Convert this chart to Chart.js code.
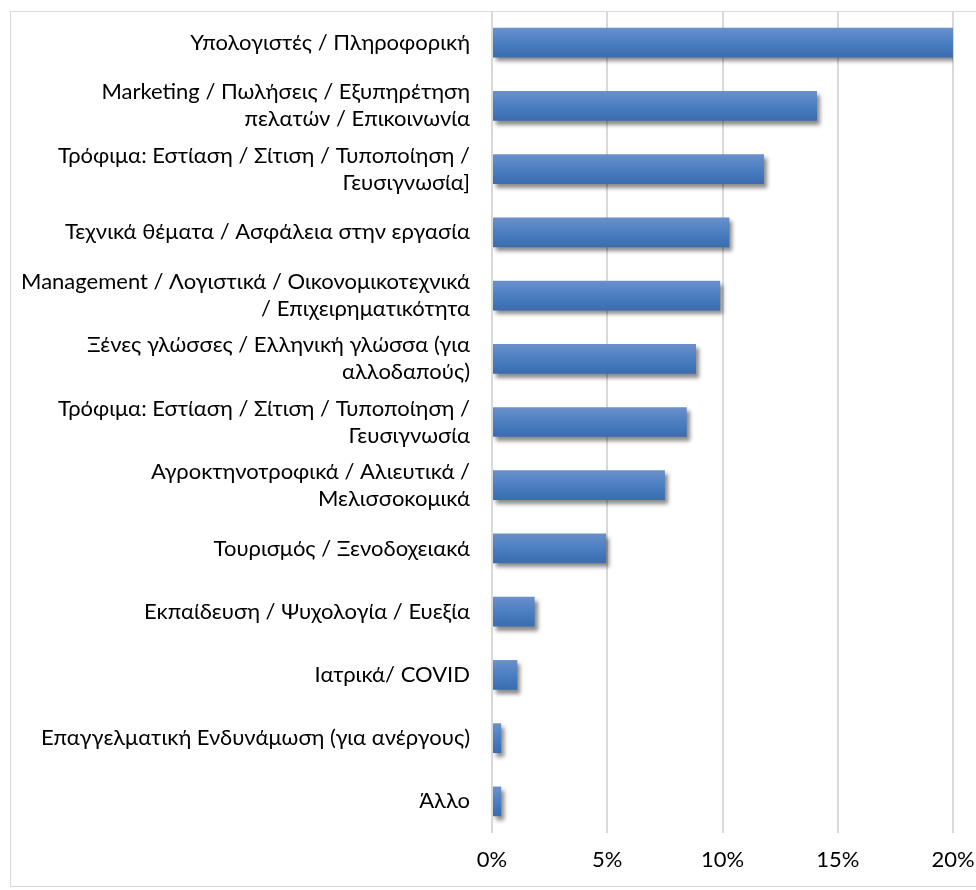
<!DOCTYPE html>
<html>
<head>
<meta charset="utf-8">
<script src="https://cdn.jsdelivr.net/npm/chart.js@4"></script>
<style>
  html, body { margin: 0; padding: 0; background: #fff; overflow: hidden; }
  #wrap { position: relative; width: 976px; height: 890px; }
  #frame { position: absolute; left: 10px; top: 11px; width: 980px; height: 876px; border: 1px solid #d9d9d9; box-sizing: border-box; }
  canvas { position: absolute; left: 0; top: 0; }
</style>
</head>
<body>
<div id="wrap">
  <div id="frame"></div>
  <canvas id="barChart" width="976" height="890"></canvas>
</div>
<script>
// Categories (multi-line labels), top to bottom
const categories = [
  ['Υπολογιστές / Πληροφορική'],
  ['Marketing / Πωλήσεις / Εξυπηρέτηση', 'πελατών / Επικοινωνία'],
  ['Τρόφιμα: Εστίαση / Σίτιση / Τυποποίηση /', 'Γευσιγνωσία]'],
  ['Τεχνικά θέματα / Ασφάλεια στην εργασία'],
  ['Management / Λογιστικά / Οικονομικοτεχνικά', '/ Επιχειρηματικότητα'],
  ['Ξένες γλώσσες / Ελληνική γλώσσα (για', 'αλλοδαπούς)'],
  ['Τρόφιμα: Εστίαση / Σίτιση / Τυποποίηση /', 'Γευσιγνωσία'],
  ['Αγροκτηνοτροφικά / Αλιευτικά /', 'Μελισσοκομικά'],
  ['Τουρισμός / Ξενοδοχειακά'],
  ['Εκπαίδευση / Ψυχολογία / Ευεξία'],
  ['Ιατρικά/ COVID'],
  ['Επαγγελματική Ενδυνάμωση (για ανέργους)'],
  ['Άλλο']
];

// Share of answers (%)
const shares = [20.0, 14.1, 11.8, 10.3, 9.9, 8.85, 8.45, 7.5, 4.95, 1.85, 1.1, 0.4, 0.4];

// x-axis ticks
const tickValues = [0, 5, 10, 15, 20];

const barPct = 0.47;

// vertical gradient for each bar
function barGradient(ctx) {
  const chart = ctx.chart;
  const yScale = chart.scales.y;
  if (!chart.chartArea || !yScale) return '#4f81bd';
  const yc = yScale.getPixelForValue(ctx.dataIndex);
  const half = (chart.chartArea.height / categories.length) * barPct / 2;
  const g = chart.ctx.createLinearGradient(0, yc - half, 0, yc + half);
  g.addColorStop(0, '#6b90c9');
  g.addColorStop(0.5, '#4a7fc2');
  g.addColorStop(1, '#3a6cae');
  return g;
}

// soft drop shadow under bars
const barShadow = {
  id: 'barShadow',
  beforeDatasetsDraw(chart) {
    const c = chart.ctx;
    c.save();
    c.shadowColor = 'rgba(0, 0, 0, 0.45)';
    c.shadowOffsetX = 3;
    c.shadowOffsetY = 4;
    c.shadowBlur = 4;
  },
  afterDatasetsDraw(chart) {
    chart.ctx.restore();
  }
};

const ctx = document.getElementById('barChart').getContext('2d');
new Chart(ctx, {
  type: 'bar',
  data: {
    labels: categories,
    datasets: [{
      data: shares,
      backgroundColor: barGradient,
      borderWidth: 0,
      categoryPercentage: 1,
      barPercentage: barPct
    }]
  },
  plugins: [barShadow],
  options: {
    indexAxis: 'y',
    responsive: false,
    animation: false,
    devicePixelRatio: 1,
    layout: { padding: { top: 11, right: 23, bottom: 0, left: 0 } },
    plugins: {
      legend: { display: false },
      tooltip: { enabled: false }
    },
    scales: {
      x: {
        min: 0,
        max: 20,
        afterBuildTicks: s => { s.ticks = tickValues.map(v => ({ value: v })); },
        afterFit: s => { s.height = 57; s.paddingLeft = 0; s.paddingRight = 0; },
        grid: { color: '#d9d9d9', lineWidth: 2, drawTicks: false },
        border: { display: false },
        ticks: {
          padding: 14,
          color: '#000',
          maxRotation: 0,
          font: { family: 'Lato', size: 22 },
          callback: v => v + '%'
        }
      },
      y: {
        afterFit: s => { s.width = 492; s.paddingTop = 0; s.paddingBottom = 0; },
        grid: { display: false, drawTicks: false },
        border: { display: false },
        ticks: {
          padding: 22,
          color: '#000',
          font: { family: 'Lato', size: 22, lineHeight: 1.23 }
        }
      }
    }
  }
});
</script>
</body>
</html>
